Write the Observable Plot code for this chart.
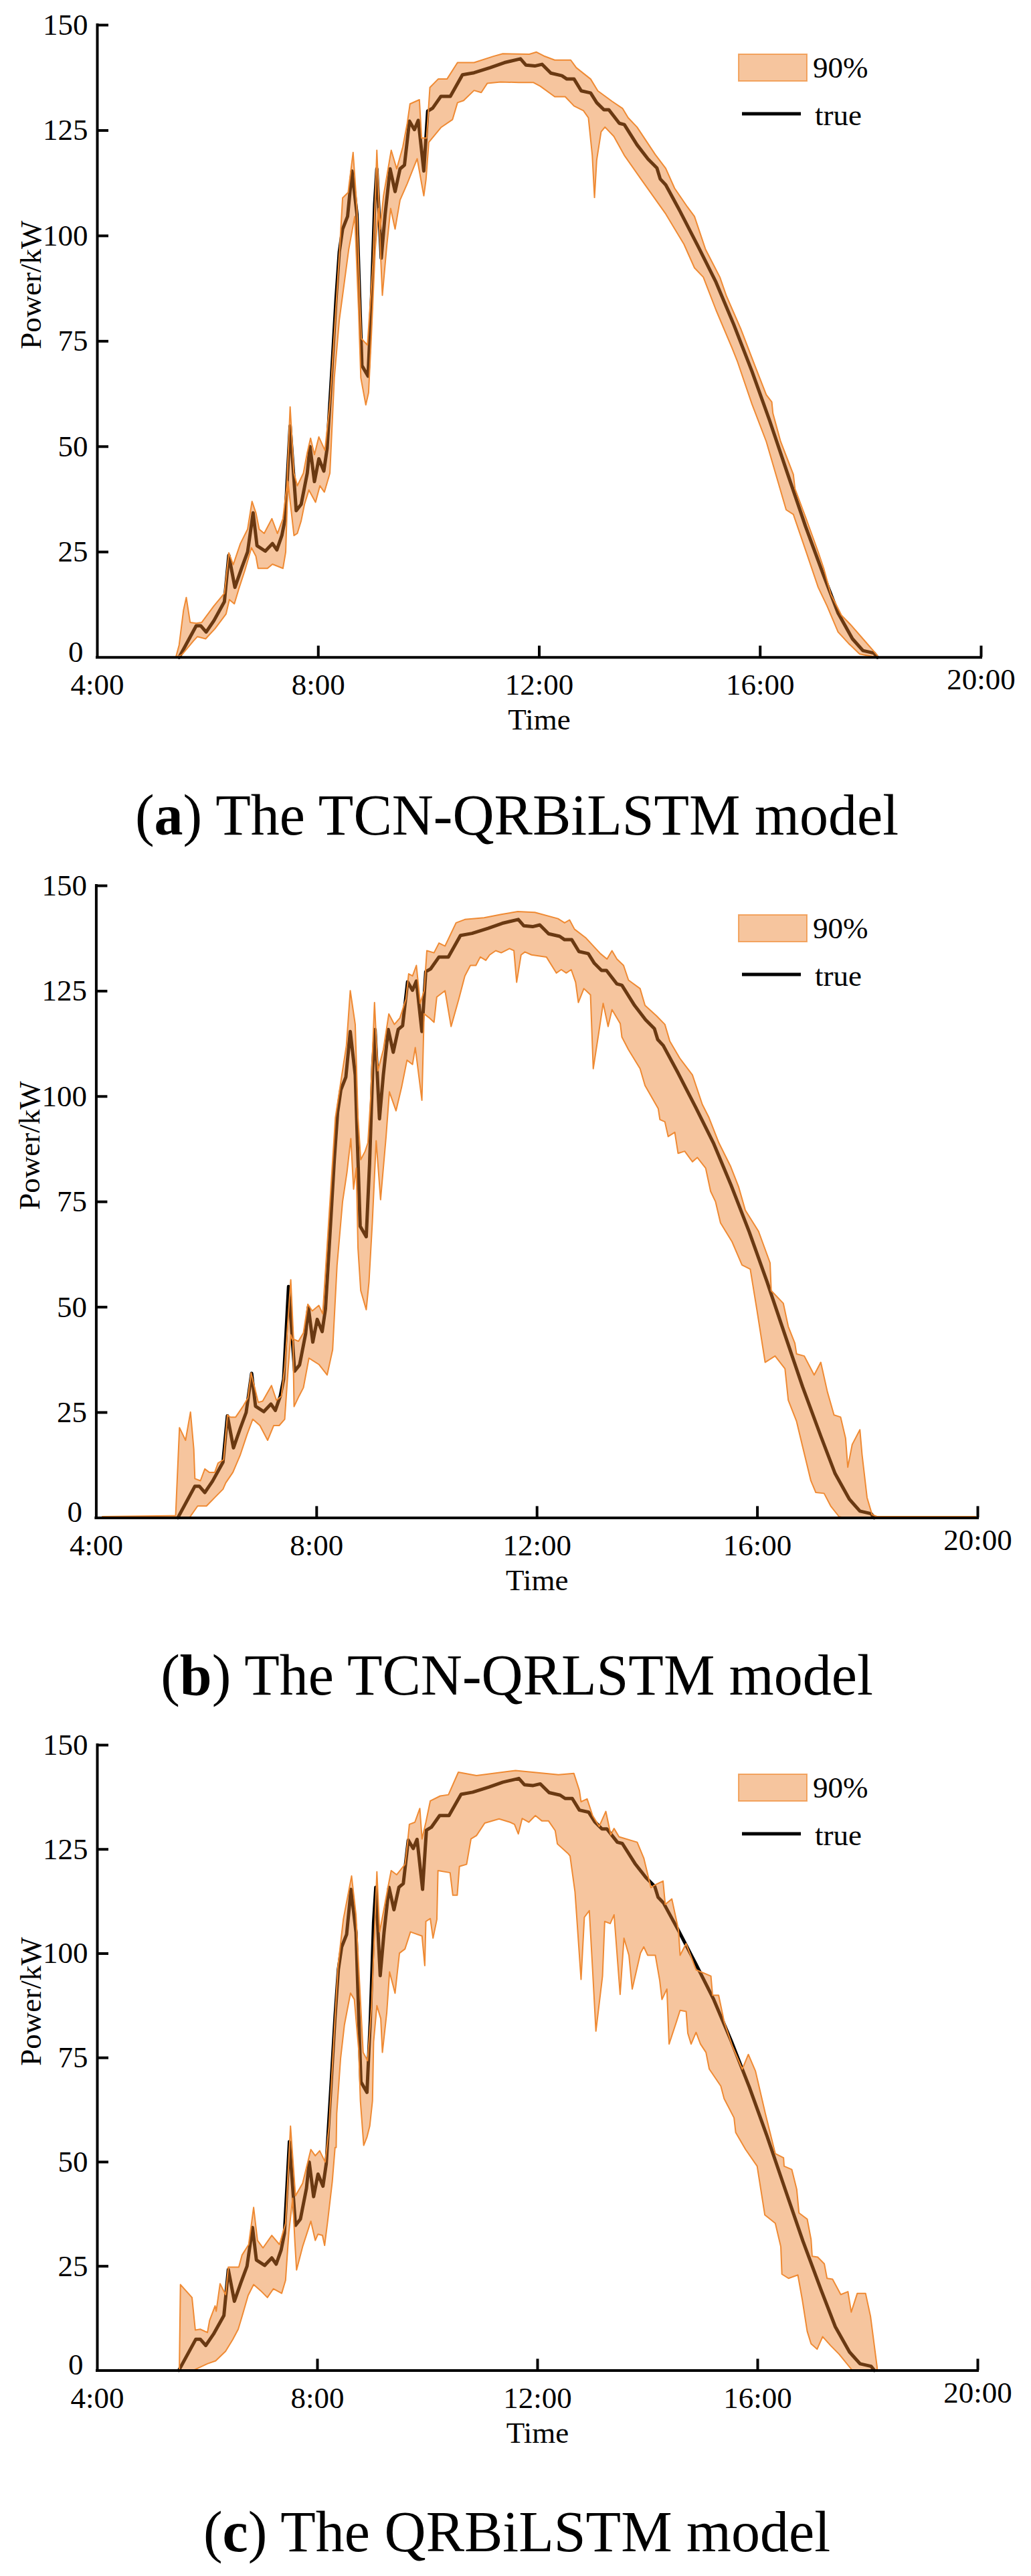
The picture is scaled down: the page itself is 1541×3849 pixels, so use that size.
<!DOCTYPE html>
<html>
<head>
<meta charset="utf-8">
<script src="https://cdn.jsdelivr.net/npm/d3@7"></script>
<script src="https://cdn.jsdelivr.net/npm/@observablehq/plot@0.6"></script>
<style>
  body { margin: 0; background: #fff; }
  #page { position: relative; width: 1541px; height: 3849px; overflow: hidden; font-family: "Liberation Serif", "Times New Roman", serif; }
  .panel { position: absolute; left: 0; }
  .caption { position: absolute; left: 0; width: 1541px; padding-left: 2px; text-align: center; font-size: 86px; line-height: 86px; color: #000; white-space: nowrap; }
</style>
</head>
<body>
<div id="page"></div>
<script>
// hours of day (decimal) and power in kW
const xTicks = [4, 8, 12, 16, 20];
const yTicks = [0, 25, 50, 75, 100, 125, 150];
const captions = [
  ["a", " The TCN-QRBiLSTM model"],
  ["b", " The TCN-QRLSTM model"],
  ["c", " The QRBiLSTM model"]
];
const legendLabels = ["90%", "true"];

const trueSeries = [
  [5.48,0],[5.79,7.5],[5.87,7.5],[5.97,6.0],[6.11,8.7],[6.30,13.2],[6.38,24.2],[6.49,16.6],[6.61,21.1],
  [6.72,25.0],[6.82,34.3],[6.89,26.5],[7.04,25.2],[7.17,27.0],[7.25,25.5],[7.34,28.9],[7.40,32.9],
  [7.49,54.9],[7.60,34.8],[7.69,36.3],[7.80,43.7],[7.85,50.0],[7.93,41.7],[8.01,47.1],[8.10,44.2],
  [8.16,49.6],[8.25,69.2],[8.32,84.9],[8.38,96.2],[8.44,101.6],[8.53,104.6],[8.61,115.4],[8.70,105.1],
  [8.75,84.9],[8.79,69.2],[8.90,66.7],[8.96,83.9],[9.02,107.5],[9.06,115.9],[9.14,94.7],[9.21,105.1],
  [9.30,115.9],[9.39,110.5],[9.48,115.9],[9.56,116.8],[9.65,127.2],[9.74,125.2],[9.81,127.4],[9.91,115.4],
  [9.98,129.6],[10.07,130.3],[10.22,133.1],[10.39,133.1],[10.61,138.2],[10.82,138.7],[11.11,139.9],
  [11.37,141.1],[11.66,142.0],[11.76,140.5],[11.92,140.3],[12.05,140.7],[12.21,138.6],[12.41,138.0],
  [12.50,137.2],[12.63,137.2],[12.76,134.4],[12.93,133.9],[13.04,131.6],[13.17,129.9],[13.26,129.9],
  [13.45,126.7],[13.54,126.4],[13.77,121.6],[13.97,118.2],[14.13,116.1],[14.19,113.5],[14.29,112.1],
  [14.55,105.8],[14.88,97.4],[15.20,89.0],[15.52,79.0],[15.85,67.9],[16.17,56.2],[16.50,43.4],
  [16.82,31.1],[17.15,19.4],[17.41,10.5],[17.67,4.4],[17.86,1.6],[18.06,1.0],[18.12,0]
];

// (a) TCN-QRBiLSTM, 90% interval
const aUpper = [
  [5.42,0],[5.48,2.9],[5.56,11.2],[5.61,14.2],[5.68,8.3],[5.79,8.1],[5.89,8.3],[6.11,12.2],[6.30,15.2],
  [6.38,24.8],[6.46,22.0],[6.59,27.0],[6.72,30.4],[6.80,37.0],[6.87,34.3],[6.93,30.4],[7.02,29.4],
  [7.16,32.9],[7.26,29.4],[7.36,32.9],[7.43,40.7],[7.49,59.4],[7.56,43.7],[7.62,40.7],[7.73,43.7],
  [7.80,48.6],[7.86,52.0],[7.93,48.1],[8.01,52.3],[8.12,49.1],[8.21,60.4],[8.31,81.0],[8.39,97.7],
  [8.44,109.0],[8.54,110.3],[8.63,119.8],[8.70,106.5],[8.75,85.9],[8.78,75.6],[8.89,74.1],[8.99,93.8],
  [9.06,120.3],[9.12,101.6],[9.18,109.5],[9.32,120.3],[9.42,115.9],[9.53,121.1],[9.61,126.7],[9.66,131.3],
  [9.83,132.3],[9.87,123.2],[9.96,123.2],[10.02,135.2],[10.17,137.2],[10.33,137.2],[10.52,141.1],
  [10.82,141.1],[11.17,142.6],[11.34,143.2],[11.82,143.1],[11.95,143.6],[12.08,142.7],[12.28,141.7],
  [12.57,141.7],[12.67,139.9],[12.93,137.2],[13.06,134.4],[13.32,131.9],[13.51,130.2],[13.61,128.0],
  [13.77,125.8],[14.10,119.3],[14.29,116.0],[14.45,111.3],[14.68,106.9],[14.81,104.6],[15.01,96.8],
  [15.27,90.2],[15.39,85.7],[15.65,77.9],[15.91,69.0],[16.11,62.3],[16.21,60.6],[16.23,57.9],
  [16.37,51.2],[16.60,43.4],[16.63,40.0],[16.82,33.3],[17.05,25.0],[17.15,21.1],[17.28,15.0],
  [17.47,10.0],[17.64,7.7],[17.86,4.4],[18.12,0.5]
];
const aLower = [
  [5.42,0],[5.53,0.6],[5.74,3.9],[5.81,4.9],[5.96,4.4],[6.13,6.8],[6.33,10.3],[6.39,13.7],[6.48,12.7],
  [6.56,16.2],[6.67,20.6],[6.79,26.0],[6.87,24.0],[6.91,21.1],[7.08,21.1],[7.17,22.1],[7.36,21.1],
  [7.41,25.0],[7.45,41.7],[7.56,28.9],[7.62,29.4],[7.69,32.4],[7.75,36.3],[7.83,39.7],[7.95,36.8],
  [8.03,40.7],[8.11,39.2],[8.21,43.7],[8.29,66.3],[8.38,80.0],[8.47,88.8],[8.55,96.7],[8.66,104.6],
  [8.73,82.0],[8.77,66.3],[8.86,59.9],[8.91,62.8],[8.96,76.1],[9.03,96.7],[9.09,106.5],[9.16,85.9],
  [9.24,97.7],[9.31,106.5],[9.39,101.6],[9.48,108.5],[9.61,112.4],[9.79,118.3],[9.87,112.4],[9.91,109.5],
  [9.95,113.4],[10.00,122.2],[10.22,125.7],[10.43,127.6],[10.52,131.6],[10.63,132.1],[10.82,134.5],
  [10.95,134.0],[11.06,136.2],[11.30,136.5],[11.63,136.4],[11.89,136.4],[12.02,135.5],[12.28,133.0],
  [12.47,133.0],[12.63,130.8],[12.80,129.7],[12.89,128.0],[12.96,119.1],[13.00,109.1],[13.04,118.0],
  [13.12,124.7],[13.19,125.8],[13.35,123.6],[13.54,119.1],[13.84,113.5],[14.29,105.2],[14.62,98.0],
  [14.81,92.4],[14.97,90.2],[15.20,82.4],[15.49,73.4],[15.59,70.1],[15.85,60.1],[16.11,51.2],
  [16.47,35.0],[16.60,33.9],[16.82,25.5],[17.05,16.6],[17.21,12.2],[17.41,6.0],[17.60,3.3],
  [17.80,0.8],[18.12,0]
];

// (b) TCN-QRLSTM, 90% interval
const bUpper = [
  [4.11,0.3],[5.44,0.5],[5.51,21.4],[5.62,18.4],[5.71,25.1],[5.77,16.3],[5.79,9.3],[5.89,8.8],[5.97,11.6],
  [6.05,10.8],[6.15,10.8],[6.21,13.0],[6.31,13.8],[6.38,24.4],[6.43,23.9],[6.53,23.9],[6.66,26.4],
  [6.75,28.4],[6.81,34.4],[6.94,27.4],[7.02,27.7],[7.18,31.4],[7.27,27.9],[7.36,28.9],[7.42,35.9],
  [7.53,56.5],[7.58,42.4],[7.67,41.9],[7.76,43.9],[7.84,50.7],[7.92,49.1],[8.04,50.4],[8.11,48.4],
  [8.19,64.5],[8.34,95.0],[8.44,103.6],[8.54,112.1],[8.61,125.1],[8.70,117.1],[8.75,95.0],[8.80,85.0],
  [8.88,87.0],[8.93,89.0],[8.98,99.6],[9.05,122.3],[9.11,106.1],[9.21,111.1],[9.31,119.6],[9.41,117.1],
  [9.51,118.6],[9.62,123.1],[9.67,129.1],[9.74,128.6],[9.81,131.1],[9.88,122.1],[9.95,125.1],
  [10.00,134.6],[10.13,134.1],[10.22,136.4],[10.33,135.7],[10.53,141.2],[10.69,142.0],[11.04,142.4],
  [11.35,143.2],[11.65,143.9],[11.96,143.7],[12.38,142.2],[12.50,141.2],[12.59,141.9],[12.68,139.7],
  [12.88,137.7],[13.15,133.9],[13.27,132.6],[13.36,134.6],[13.45,132.6],[13.57,131.1],[13.66,127.6],
  [13.87,125.6],[13.96,121.6],[14.17,119.1],[14.32,117.1],[14.41,113.1],[14.59,109.1],[14.82,105.1],
  [15.00,98.1],[15.12,95.0],[15.30,89.0],[15.51,83.5],[15.66,78.5],[15.78,73.0],[16.02,68.0],
  [16.23,60.5],[16.25,53.9],[16.47,50.9],[16.56,45.4],[16.68,41.4],[16.71,38.9],[16.85,38.4],
  [17.03,33.9],[17.15,36.9],[17.27,29.9],[17.39,24.4],[17.51,23.9],[17.60,18.9],[17.64,12.0],
  [17.72,17.4],[17.86,20.9],[17.90,14.9],[17.99,4.8],[18.08,0.8],[18.17,0.3],[19.96,0.3]
];
const bLower = [
  [4.11,0],[5.69,0],[5.84,2.8],[6.00,2.8],[6.15,4.8],[6.30,6.8],[6.35,8.3],[6.48,10.8],[6.61,14.8],
  [6.74,19.9],[6.84,23.4],[6.97,21.9],[7.11,18.4],[7.22,21.9],[7.32,21.9],[7.42,23.4],[7.48,34.9],
  [7.53,43.4],[7.57,41.9],[7.59,26.4],[7.68,28.9],[7.76,30.9],[7.86,37.9],[8.04,36.4],[8.19,33.9],
  [8.29,39.9],[8.37,59.9],[8.47,75.0],[8.55,82.0],[8.62,90.0],[8.67,78.0],[8.72,83.0],[8.75,64.0],
  [8.80,53.9],[8.90,49.4],[8.95,56.0],[9.01,70.0],[9.08,89.5],[9.16,75.5],[9.26,90.5],[9.32,101.1],
  [9.44,96.6],[9.54,102.1],[9.64,108.6],[9.74,107.6],[9.79,111.6],[9.91,99.1],[9.95,119.6],[10.05,118.6],
  [10.13,117.6],[10.18,123.6],[10.33,125.1],[10.44,116.6],[10.58,123.1],[10.69,128.6],[10.79,131.1],
  [10.89,131.1],[10.97,133.1],[11.07,132.3],[11.14,133.6],[11.25,134.6],[11.35,134.1],[11.50,135.1],
  [11.58,134.6],[11.63,127.1],[11.71,133.6],[11.78,134.3],[11.90,133.6],[12.17,133.1],[12.35,129.3],
  [12.44,130.1],[12.53,129.3],[12.62,130.1],[12.70,127.1],[12.75,122.3],[12.85,125.6],[12.97,124.1],
  [13.02,106.6],[13.12,115.1],[13.20,122.1],[13.29,116.6],[13.36,120.6],[13.51,117.3],[13.54,114.1],
  [13.66,111.1],[13.87,106.6],[13.96,102.6],[14.20,97.1],[14.23,94.5],[14.32,94.0],[14.38,90.5],
  [14.50,91.5],[14.56,86.5],[14.68,87.0],[14.82,84.5],[14.91,85.5],[15.06,83.0],[15.15,77.5],
  [15.24,75.0],[15.33,70.0],[15.54,65.5],[15.72,60.0],[15.87,59.0],[15.99,49.4],[16.14,36.9],
  [16.32,38.4],[16.50,35.4],[16.56,27.9],[16.71,22.9],[16.82,16.9],[16.97,8.8],[17.06,6.0],
  [17.21,5.8],[17.33,2.8],[17.48,0.3],[17.57,0],[19.96,0]
];

// (c) QRBiLSTM, 90% interval
const cUpper = [
  [5.49,0.3],[5.51,20.6],[5.72,17.5],[5.78,9.7],[5.87,9.9],[6.00,9.1],[6.04,12.0],[6.14,15.5],[6.16,14.2],
  [6.23,20.8],[6.33,18.2],[6.38,24.8],[6.57,24.8],[6.63,27.7],[6.75,30.2],[6.84,39.1],[6.91,31.2],
  [7.01,29.4],[7.17,32.4],[7.31,30.2],[7.42,35.3],[7.51,58.6],[7.60,41.9],[7.73,44.9],[7.88,53.0],
  [7.96,51.5],[8.04,52.7],[8.14,50.0],[8.21,58.6],[8.37,96.6],[8.47,108.2],[8.62,118.6],[8.70,109.3],
  [8.83,76.3],[8.91,74.3],[8.98,87.0],[9.08,119.6],[9.13,105.2],[9.21,110.8],[9.28,115.8],[9.34,119.9],
  [9.44,118.9],[9.59,121.4],[9.64,127.0],[9.67,131.0],[9.77,131.5],[9.86,134.8],[9.90,127.5],
  [9.97,131.5],[10.05,136.6],[10.23,137.8],[10.38,138.1],[10.56,143.5],[10.89,142.7],[11.60,143.9],
  [12.38,142.9],[12.66,143.2],[12.76,139.1],[12.79,136.4],[12.90,137.1],[13.00,133.1],[13.12,130.5],
  [13.24,134.1],[13.33,128.5],[13.39,130.0],[13.48,128.0],[13.81,126.7],[13.93,122.9],[14.06,115.8],
  [14.11,116.3],[14.28,117.4],[14.32,111.8],[14.44,113.1],[14.56,105.7],[14.59,99.6],[14.70,102.4],
  [14.88,96.1],[15.15,94.6],[15.18,90.0],[15.29,90.0],[15.39,83.7],[15.54,77.8],[15.72,72.3],
  [15.83,75.8],[15.96,71.8],[16.14,61.6],[16.32,52.0],[16.47,51.0],[16.48,49.0],[16.62,48.2],
  [16.71,43.4],[16.75,37.8],[16.90,36.3],[16.97,31.4],[16.99,27.4],[17.09,27.2],[17.21,25.6],
  [17.26,22.1],[17.36,21.9],[17.51,18.2],[17.64,18.9],[17.70,14.0],[17.81,18.5],[17.96,18.5],
  [18.05,13.0],[18.17,0.8]
];
const cLower = [
  [5.49,0],[5.74,0],[6.00,1.6],[6.15,2.3],[6.33,4.6],[6.46,7.4],[6.56,9.9],[6.63,13.0],[6.74,18.0],
  [6.84,20.6],[6.97,19.1],[7.09,17.5],[7.20,19.6],[7.35,18.5],[7.42,21.6],[7.48,33.2],[7.55,41.3],
  [7.59,30.7],[7.62,24.1],[7.73,29.7],[7.88,35.8],[7.96,31.2],[8.01,32.7],[8.09,32.4],[8.13,30.0],
  [8.19,36.3],[8.27,45.4],[8.32,53.5],[8.34,53.5],[8.35,61.6],[8.42,74.8],[8.49,82.9],[8.60,90.5],
  [8.67,89.0],[8.75,76.8],[8.78,64.7],[8.84,54.0],[8.90,56.0],[8.95,58.6],[9.00,64.7],[9.02,78.8],
  [9.08,87.5],[9.15,84.4],[9.18,76.3],[9.26,85.9],[9.31,95.6],[9.41,90.5],[9.49,100.1],[9.59,101.1],
  [9.69,105.2],[9.90,104.2],[9.95,97.1],[9.97,107.7],[10.05,108.4],[10.10,103.7],[10.17,108.2],
  [10.19,119.9],[10.41,119.4],[10.46,114.0],[10.54,114.0],[10.58,120.9],[10.71,121.4],[10.79,127.5],
  [10.89,128.3],[11.04,131.3],[11.30,132.3],[11.50,131.5],[11.58,131.0],[11.65,128.7],[11.72,132.4],
  [11.84,131.5],[11.96,133.1],[12.08,131.8],[12.20,131.8],[12.32,129.5],[12.36,126.3],[12.56,123.9],
  [12.59,123.4],[12.68,114.8],[12.72,107.2],[12.79,93.8],[12.85,108.7],[12.94,110.3],[13.00,96.1],
  [13.06,81.4],[13.18,94.6],[13.22,107.7],[13.32,107.2],[13.39,109.3],[13.50,90.2],[13.57,103.7],
  [13.66,99.6],[13.72,91.5],[13.87,100.1],[13.93,101.6],[14.00,99.6],[14.14,99.6],[14.22,93.5],
  [14.26,89.0],[14.35,91.5],[14.39,78.3],[14.53,83.9],[14.59,86.4],[14.70,86.1],[14.73,80.9],
  [14.79,78.3],[14.88,81.1],[14.96,78.3],[15.06,76.3],[15.12,72.3],[15.33,68.2],[15.39,65.2],
  [15.57,60.6],[15.60,57.1],[15.78,53.0],[15.99,49.0],[16.13,37.3],[16.32,35.3],[16.42,29.7],
  [16.44,23.1],[16.56,22.1],[16.73,22.9],[16.81,17.0],[16.90,9.4],[16.97,6.4],[17.08,5.1],
  [17.18,8.1],[17.33,5.9],[17.48,3.9],[17.72,0],[18.17,0]
];

// layout: page pixel box of each plot frame
const W = 1541, MT = 37, MB = 160;
const panels = [
  { left: 145, right: 1466, top: 37, bottom: 981.7, caption: 1247, upper: aUpper, lower: aLower },
  { left: 143.4, right: 1461, top: 1323, bottom: 2267.4, caption: 2532, upper: bUpper, lower: bLower },
  { left: 145, right: 1461, top: 2606.6, bottom: 3541, caption: 3812, upper: cUpper, lower: cLower }
];
const BAND = "#eb7f28";
const EDGE = "#ef8a33";

const page = document.getElementById("page");

function makePanel(p) {
  const plotH = p.bottom - p.top;
  const plotW = p.right - p.left;
  const band = p.upper.concat(p.lower.slice().reverse());
  const chart = Plot.plot({
    width: W,
    height: MT + plotH + MB,
    marginTop: MT,
    marginBottom: MB,
    marginLeft: p.left,
    marginRight: W - p.right,
    style: { fontFamily: '"Liberation Serif", "Times New Roman", serif', fontSize: "45px", color: "black", background: "white", overflow: "visible" },
    x: { domain: [4, 20], axis: null },
    y: { domain: [0, 150], axis: null },
    marks: [
      Plot.line(trueSeries, { x: d => d[0], y: d => d[1], stroke: "black", strokeWidth: 5 }),
      Plot.line(band, { x: d => d[0], y: d => d[1], fill: BAND, fillOpacity: 0.45, stroke: EDGE, strokeWidth: 2 }),
      Plot.ruleY([0], { stroke: "black", strokeWidth: 4, strokeLinecap: "square" }),
      Plot.ruleX([4], { stroke: "black", strokeWidth: 4, strokeLinecap: "square" }),
      Plot.tickX(xTicks.slice(1), { x: d => d, insetTop: plotH - 17, stroke: "black", strokeWidth: 4 }),
      Plot.tickY(yTicks.slice(1), { y: d => d, insetRight: plotW - 17, stroke: "black", strokeWidth: 4 }),
      Plot.text(xTicks.slice(0, -1), { x: d => d, frameAnchor: "bottom", lineAnchor: "top", dy: 24, text: d => `${d}:00` }),
      Plot.text(xTicks.slice(-1), { x: d => d, frameAnchor: "bottom", lineAnchor: "top", dy: 16, text: d => `${d}:00` }),
      Plot.text(yTicks.slice(0, 1), { y: d => d, frameAnchor: "left", textAnchor: "end", dx: -21, dy: -8, text: d => String(d) }),
      Plot.text(yTicks.slice(1), { y: d => d, frameAnchor: "left", textAnchor: "end", dx: -14, text: d => String(d) }),
      Plot.text(["Time"], { frameAnchor: "bottom", dy: 108, text: d => d }),
      Plot.text(["Power/kW"], { frameAnchor: "left", rotate: -90, dx: -99, dy: 12, text: d => d })
    ]
  });

  // legend, top right inside the frame
  const lg = d3.select(chart).append("g")
    .attr("transform", `translate(0,${MT})`)
    .attr("text-anchor", "start");
  lg.append("rect")
    .attr("x", 1104).attr("y", 44).attr("width", 102).attr("height", 40)
    .attr("fill", BAND).attr("fill-opacity", 0.45)
    .attr("stroke", EDGE).attr("stroke-opacity", 0.7).attr("stroke-width", 2);
  lg.append("text").attr("x", 1215).attr("y", 79).text(legendLabels[0]);
  lg.append("line")
    .attr("x1", 1109).attr("x2", 1197).attr("y1", 133).attr("y2", 133)
    .attr("stroke", "black").attr("stroke-width", 5);
  lg.append("text").attr("x", 1218).attr("y", 150).text(legendLabels[1]);

  const div = document.createElement("div");
  div.className = "panel";
  div.style.top = (p.top - MT) + "px";
  div.append(chart);
  page.append(div);
}

panels.forEach((p, i) => {
  makePanel(p);
  const cap = document.createElement("div");
  cap.className = "caption";
  cap.style.top = (p.caption - 72) + "px";
  const b = document.createElement("b");
  b.textContent = captions[i][0];
  cap.append("(", b, ")" + captions[i][1]);
  page.append(cap);
});
</script>
</body>
</html>
